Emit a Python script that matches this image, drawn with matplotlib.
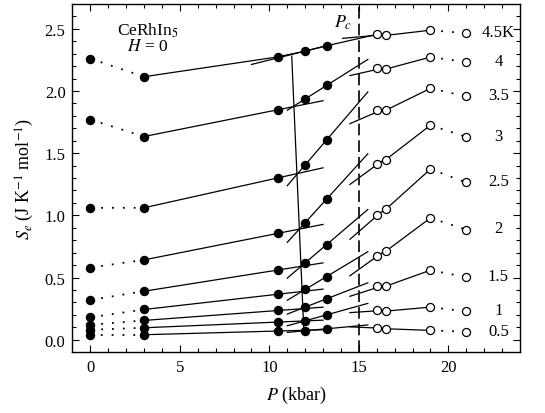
import matplotlib.pyplot as plt
import numpy as np

plt.rcParams["font.family"] = ["Liberation Serif", "DejaVu Serif"]
plt.rcParams["mathtext.fontset"] = "stix"

# pressure points (kbar): filled = ordered phase side, open = above Pc
P_FILLED = [0, 3, 10.5, 12, 13.2]
P_OPEN = [16, 16.5, 19, 21]
TEMPS = ["0.5", "1", "1.5", "2", "2.5", "3", "3.5", "4", "4.5K"]

# entropy S_e (J K^-1 mol^-1), one row per temperature
S_FILLED = [
    [0.04, 0.040, 0.070, 0.072, 0.088],
    [0.08, 0.096, 0.142, 0.152, 0.200],
    [0.12, 0.155, 0.235, 0.262, 0.329],
    [0.18, 0.243, 0.366, 0.404, 0.508],
    [0.32, 0.390, 0.561, 0.618, 0.765],
    [0.58, 0.642, 0.856, 0.941, 1.131],
    [1.06, 1.061, 1.302, 1.406, 1.607],
    [1.77, 1.634, 1.850, 1.936, 2.045],
    [2.26, 2.115, 2.275, 2.321, 2.364],
]
S_OPEN = [
    [0.096, 0.088, 0.075, 0.064],
    [0.238, 0.230, 0.262, 0.227],
    [0.428, 0.430, 0.559, 0.503],
    [0.676, 0.711, 0.979, 0.885],
    [1.003, 1.048, 1.372, 1.265],
    [1.417, 1.447, 1.725, 1.631],
    [1.845, 1.845, 2.021, 1.957],
    [2.184, 2.176, 2.273, 2.233],
    [2.455, 2.447, 2.489, 2.465],
]

# line joining the kinks of the low- and high-pressure fits
KINK_P = [11.25, 11.93]
KINK_S = [2.28, 0.06]
PC = 15

fig = plt.figure(figsize=(5.45, 4.14), dpi=100)
ax = fig.add_axes([0.133, 0.147, 0.821, 0.841])

lw = 0.9
dots = (0, (1, 5))


def fit_line(px, sy, lo, hi):
    k, b = np.polyfit(px, sy, 1)
    xs = np.array([lo, hi])
    ax.plot(xs, k * xs + b, color="k", lw=lw)


for i, (sf, so) in enumerate(zip(S_FILLED, S_OPEN)):
    top = i == len(S_FILLED) - 1
    ax.plot(P_FILLED[:2], sf[:2], color="k", lw=1.3, linestyle=dots)
    ax.plot(P_OPEN[2:], so[2:], color="k", lw=1.3, linestyle=dots)
    if top:
        ax.plot(P_FILLED[1:] + P_OPEN[:3], sf[1:] + so[:3], color="k", lw=lw)
        fit_line(P_FILLED[3:], sf[3:], 9.0, 13.1)
        fit_line(P_OPEN[:3], so[:3], 14.1, 16.0)
    else:
        fit_line(P_FILLED[1:3], sf[1:3], 3.0, 13.0)
        fit_line(P_FILLED[3:], sf[3:], 11.0, 15.5)
        fit_line(P_OPEN[:3], so[:3], 14.5, 16.0)
        ax.plot(P_OPEN[:3], so[:3], color="k", lw=lw)
    ax.plot(P_FILLED, sf, "o", color="k", ms=5.8, ls="none", zorder=3)
    ax.plot(P_OPEN, so, "o", mfc="white", mec="k", mew=0.9, ms=5.8, ls="none", zorder=3)
    ax.text(22.8, so[-1] + 0.01, TEMPS[i], ha="center", va="center", fontsize=12)

ax.plot(KINK_P, KINK_S, color="k", lw=lw)
ax.axvline(PC, color="k", lw=1.2, linestyle=(0, (7, 3)))
ax.text(14.1, 2.56, "$P_c$", fontsize=13, ha="center", va="center")
ax.text(3.2, 2.49, "CeRhIn$_5$", fontsize=12.5, ha="center", va="center")
ax.text(3.2, 2.36, "$H$ = 0", fontsize=12.5, ha="center", va="center")

ax.set_xlim(-1, 24)
ax.set_ylim(-0.1, 2.7)
ax.set_xticks([0, 5, 10, 15, 20])
ax.set_xticks(np.arange(0, 24, 1), minor=True)
ax.set_yticks(np.arange(0, 2.6, 0.5))
ax.set_yticks(np.arange(0, 2.7, 0.1), minor=True)
ax.set_yticklabels([f"{v:.1f}" for v in np.arange(0, 2.6, 0.5)])
ax.tick_params(which="both", direction="in", top=True, right=True, labelsize=12, width=0.8)
ax.tick_params(which="major", length=5, pad=5)
ax.tick_params(which="minor", length=3)
for side in ax.spines.values():
    side.set_linewidth(1.0)
ax.set_xlabel("$P$ (kbar)", fontsize=13, labelpad=6)
ax.set_ylabel("$S_e$ (J K$^{-1}$ mol$^{-1}$)", fontsize=13, labelpad=6)

fig.savefig("out.png", dpi=100)
